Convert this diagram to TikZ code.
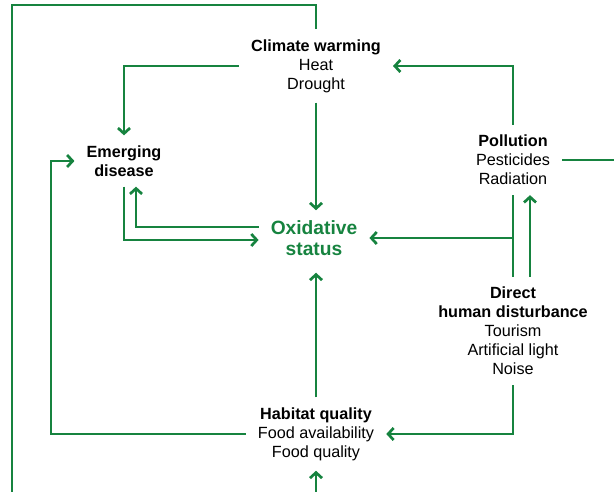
\documentclass[tikz,border=0pt]{standalone}
\usepackage{fontspec}
\setmainfont{Liberation Sans}
\usetikzlibrary{arrows.meta,calc}
\definecolor{fg}{RGB}{22,131,63}
\begin{document}
\begin{tikzpicture}[x=1pt,y=-1pt,
  line/.style={draw=fg,line width=2.7pt},
  arr/.style={line,-{Straight Barb[length=5.5pt,width=12pt]}},
  blk/.style={align=center,font=\fontsize{16.2}{19}\selectfont,inner xsep=12pt,inner ysep=10pt,text=black},
]
\useasboundingbox (0,0) rectangle (614,492);
\node[blk] (cw) at (316,66) {\textbf{Climate warming}\\Heat\\Drought};
\node[blk] (ed) at (124,161) {\textbf{Emerging}\\\textbf{disease}};
\node[blk, font=\bfseries\fontsize{19.2}{21}\selectfont, text=fg] (ox) at (314,238) {Oxidative\\status};
\node[blk] (pol) at (513,160) {\textbf{Pollution}\\Pesticides\\Radiation};
\node[blk] (dhd) at (513,331) {\textbf{Direct}\\\textbf{human disturbance}\\Tourism\\Artificial light\\Noise};
\node[blk] (hq) at (316,434) {\textbf{Habitat quality}\\Food availability\\Food quality};
\coordinate (c1) at (12,5);
\coordinate (c2) at (12,496);
\coordinate (pr) at (618,160);
\coordinate (cL) at (51,300);
\coordinate (bt) at (316,496);
\coordinate (oxs) at ([yshift=-7pt]ox.south);
% connectors
\draw[line] (cw.north) |- (c1) -- (c2);
\draw[arr] (cw.west) -| (ed.north);
\draw[arr] (cw.south) -- (cw.south |- ox.north);
\draw[arr] (pol.north) |- (cw.east);
\draw[line] (pol.east) -- (pr);
\draw[line] (pol.south) -- (dhd.north);
\draw[arr] (pol.south |- ox.east) -- (ox.east);
\draw[arr] ([xshift=17pt]dhd.north) -- ([xshift=17pt]pol.south);
\draw[arr] (dhd.south) |- (hq.east);
\draw[arr] (hq.north) -- (hq.north |- oxs);
\draw[arr] (hq.west) -| (cL) |- (ed.west);
\draw[arr] (ed.south) |- ([yshift=-2pt]ox.west);
\draw[arr] ([yshift=11pt]ox.west) -| ([xshift=12pt]ed.south);
\draw[arr] (bt) -- (hq.south);
\end{tikzpicture}
\end{document}
